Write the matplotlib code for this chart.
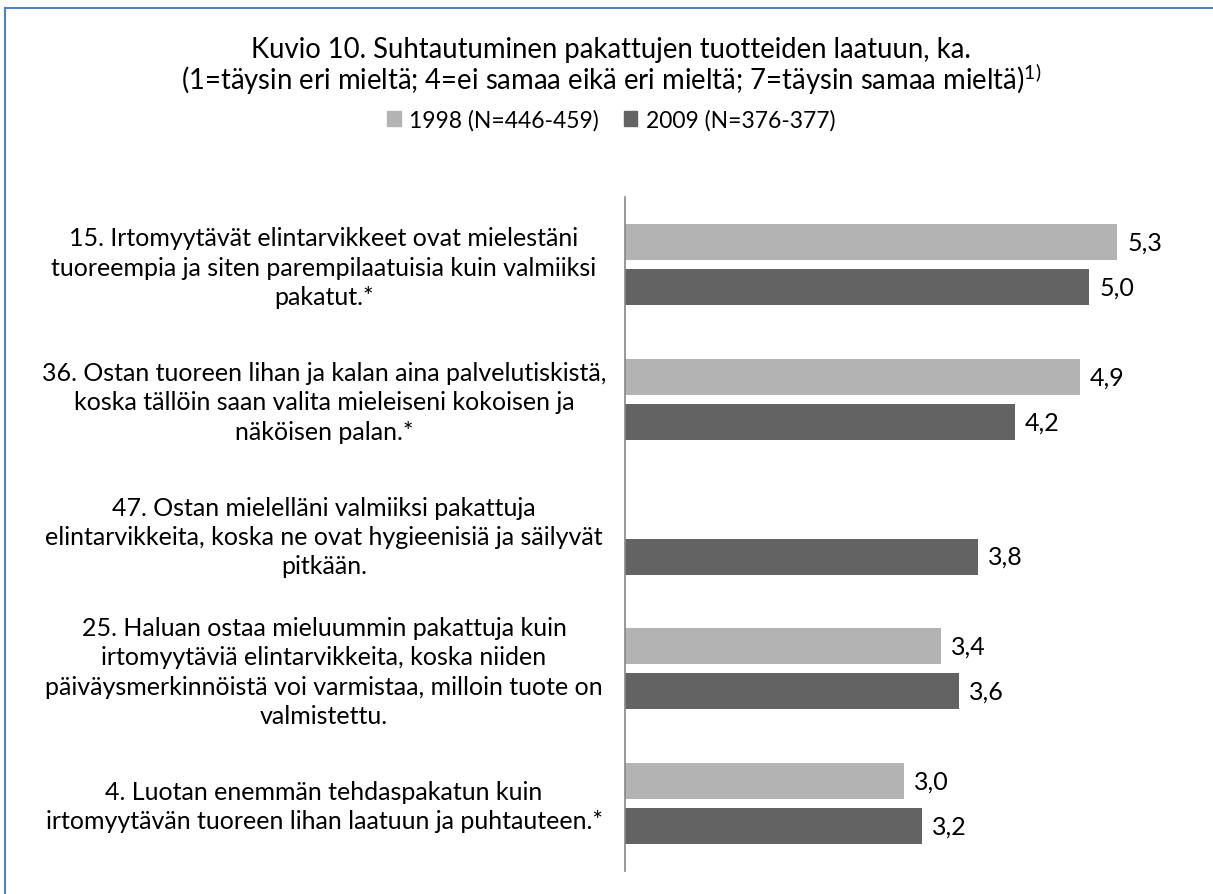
import numpy as np
import matplotlib
matplotlib.use("Agg")
import matplotlib.pyplot as plt
from matplotlib.transforms import blended_transform_factory
from matplotlib.patches import Patch
from matplotlib.lines import Line2D

plt.rcParams['font.family'] = ['Lato', 'DejaVu Sans']
plt.rcParams['mathtext.default'] = 'regular'

categories = [
    "15. Irtomyytävät elintarvikkeet ovat mielestäni\ntuoreempia ja siten parempilaatuisia kuin valmiiksi\npakatut.*",
    "36. Ostan tuoreen lihan ja kalan aina palvelutiskistä,\nkoska tällöin saan valita mieleiseni kokoisen ja\nnäköisen palan.*",
    "47. Ostan mielelläni valmiiksi pakattuja\nelintarvikkeita, koska ne ovat hygieenisiä ja säilyvät\npitkään.",
    "25. Haluan ostaa mieluummin pakattuja kuin\nirtomyytäviä elintarvikkeita, koska niiden\npäiväysmerkinnöistä voi varmistaa, milloin tuote on\nvalmistettu.",
    "4. Luotan enemmän tehdaspakatun kuin\nirtomyytävän tuoreen lihan laatuun ja puhtauteen.*",
]
values_1998 = [5.3, 4.9, np.nan, 3.4, 3.0]
values_2009 = [5.0, 4.2, 3.8, 3.6, 3.2]
series_names = ["1998 (N=446-459)", "2009 (N=376-377)"]
title_line1 = "Kuvio 10. Suhtautuminen pakattujen tuotteiden laatuun, ka."
title_line2 = "(1=täysin eri mieltä; 4=ei samaa eikä eri mieltä; 7=täysin samaa mieltä)$^{1)}$"

c1998 = "#B3B3B3"
c2009 = "#636363"
W, H = 1213, 895
fig = plt.figure(figsize=(W / 100, H / 100), dpi=100)

ax_left, ax_right = 625 / W, 1182 / W
ax_top, ax_bot = 1 - 198 / H, 1 - 872 / H
ax = fig.add_axes([ax_left, ax_bot, ax_right - ax_left, ax_top - ax_bot])

y = np.arange(len(categories))
bh = 0.267
off = 0.167
ax.barh(y - off, values_1998, height=bh, color=c1998, label=series_names[0])
ax.barh(y + off, values_2009, height=bh, color=c2009, label=series_names[1])

ax.set_xlim(0, 6)
ax.set_ylim(len(categories) - 0.5, -0.5)
for s in ['top', 'right', 'bottom']:
    ax.spines[s].set_visible(False)
ax.spines['left'].set_color('#868686')
ax.spines['left'].set_linewidth(1.2)
ax.set_xticks([])
ax.set_yticks([])

fs = 18
for yi, v in zip(y - off, values_1998):
    if not np.isnan(v):
        ax.text(v + 0.11, yi, f"{v:.1f}".replace('.', ','), va='center', ha='left', fontsize=fs, color='black')
for yi, v in zip(y + off, values_2009):
    if not np.isnan(v):
        ax.text(v + 0.11, yi, f"{v:.1f}".replace('.', ','), va='center', ha='left', fontsize=fs, color='black')

tr = blended_transform_factory(fig.transFigure, ax.transData)
for yi, lab in zip(y, categories):
    ax.text(324 / W, yi + 0.02, lab, transform=tr, ha='center', va='center', multialignment='center',
            fontsize=fs, linespacing=1.33, color='black')

fig.text(611 / W, 1 - 50 / H, title_line1, ha='center', va='center', fontsize=19.8)
fig.text(611 / W, 1 - 79 / H, title_line2, ha='center', va='center', fontsize=19.8)

handles = [Patch(color=c1998), Patch(color=c2009)]
fig.legend(handles, series_names, loc='center', bbox_to_anchor=(611 / W, 1 - 121 / H), ncol=2,
           frameon=False, fontsize=16.5, handlelength=0.6, handleheight=0.6, handletextpad=0.35,
           columnspacing=1.1)

# chart border (top and left visible)
bc = "#4F81BD"
fig.add_artist(Line2D([5 / W, 1.0], [1 - 9 / H, 1 - 9 / H], color=bc, lw=1.5, transform=fig.transFigure))
fig.add_artist(Line2D([5 / W, 5 / W], [0.0, 1 - 9 / H], color=bc, lw=1.5, transform=fig.transFigure))

fig.savefig("out.png", dpi=100, facecolor='white')
